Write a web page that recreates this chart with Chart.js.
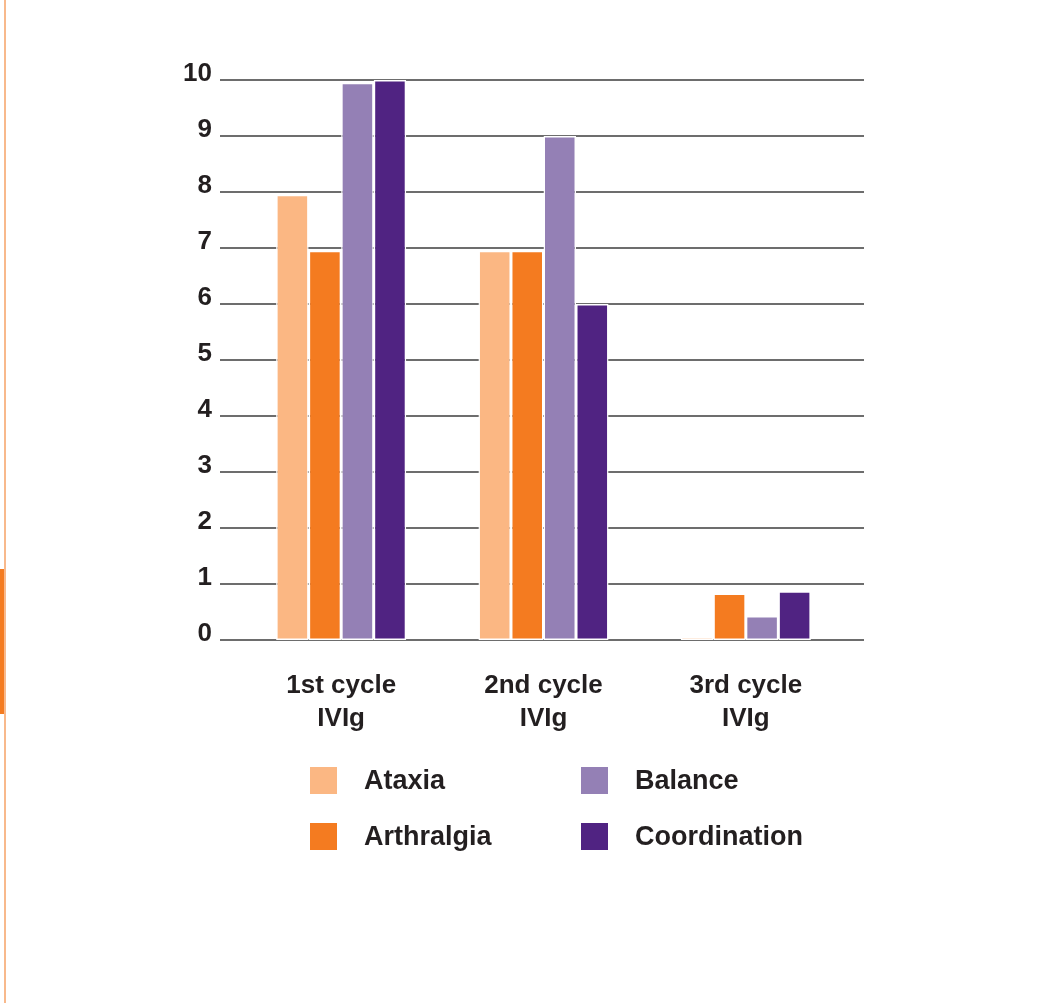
<!DOCTYPE html>
<html>
<head>
<meta charset="utf-8">
<script src="https://cdn.jsdelivr.net/npm/chart.js@4.4.0/dist/chart.umd.min.js"></script>
<style>
  html, body { margin: 0; padding: 0; background: #fff; }
  #wrap { position: relative; width: 1042px; height: 1003px; }
  #edge { position: absolute; left: 4px; top: 0; width: 1.5px; height: 1003px; background: #f8b98c; }
  #tab { position: absolute; left: 0; top: 569px; width: 3.5px; height: 145px; background: #f47b20; }
</style>
</head>
<body>
<div id="wrap">
  <canvas id="chart" width="1042" height="1003"></canvas>
  <div id="edge"></div>
  <div id="tab"></div>
</div>
<script>
// categories and series
var categories = [["1st cycle", "IVIg"], ["2nd cycle", "IVIg"], ["3rd cycle", "IVIg"]];
var ataxia = [7.95, 6.95, 0.06];
var arthralgia = [6.95, 6.95, 0.83];
var balance = [9.95, 9.0, 0.43];
var coordination = [10, 6, 0.87];
var yTicks = [0, 1, 2, 3, 4, 5, 6, 7, 8, 9, 10];

var seriesNames = ["Ataxia", "Arthralgia", "Balance", "Coordination"];
var seriesColors = ["#fbb783", "#f47b20", "#9480b5", "#502382"];
var fontFamily = "'Liberation Sans', Arial, Helvetica, sans-serif";
var textColor = "#231f20";

// horizontal rules that run past the plot area on both sides
const gridPlugin = {
  id: 'wideGrid',
  beforeDatasetsDraw(chart) {
    const ctx = chart.ctx;
    const y = chart.scales.y;
    const area = chart.chartArea;
    ctx.save();
    ctx.strokeStyle = '#6d6d6d';
    ctx.lineWidth = 2;
    yTicks.forEach(v => {
      const py = y.getPixelForValue(v);
      ctx.beginPath();
      ctx.moveTo(area.left - 20, py);
      ctx.lineTo(area.right + 17, py);
      ctx.stroke();
    });
    ctx.restore();
  }
};

// two column legend under the chart
const legendPlugin = {
  id: 'twoColLegend',
  afterDraw(chart) {
    const ctx = chart.ctx;
    const cols = [310, 581];
    const rows = [767, 823];
    ctx.save();
    ctx.font = 'bold 27px ' + fontFamily;
    ctx.textBaseline = 'middle';
    chart.data.datasets.forEach((ds, i) => {
      const cx = cols[Math.floor(i / 2)];
      const cy = rows[i % 2];
      ctx.fillStyle = ds.backgroundColor;
      ctx.fillRect(cx, cy, 27, 27);
      ctx.fillStyle = textColor;
      ctx.fillText(ds.label, cx + 54, cy + 15);
    });
    ctx.restore();
  }
};

const datasets = [ataxia, arthralgia, balance, coordination].map((vals, i) => ({
  label: seriesNames[i],
  data: vals,
  backgroundColor: seriesColors[i],
  borderColor: '#ffffff',
  borderWidth: 1.5,
  borderSkipped: false,
  barPercentage: 1,
  categoryPercentage: 0.643
}));

new Chart(document.getElementById('chart').getContext('2d'), {
  type: 'bar',
  data: { labels: categories, datasets: datasets },
  plugins: [gridPlugin, legendPlugin],
  options: {
    responsive: false,
    animation: false,
    layout: { padding: { top: 80, left: 180, right: 195, bottom: 263 } },
    plugins: {
      legend: { display: false },
      tooltip: { enabled: false }
    },
    scales: {
      x: {
        grid: { display: false, drawTicks: false },
        border: { display: false },
        ticks: {
          color: textColor,
          padding: 29,
          maxRotation: 0,
          font: { family: fontFamily, size: 26, weight: 'bold', lineHeight: 1.27 }
        },
        afterFit(scale) { scale.height = 100; }
      },
      y: {
        min: 0,
        max: 10,
        grid: { display: false, drawTicks: false },
        border: { display: false },
        afterBuildTicks(scale) { scale.ticks = yTicks.map(v => ({ value: v })); },
        ticks: {
          color: textColor,
          padding: 28,
          labelOffset: -6,
          font: { family: fontFamily, size: 26, weight: 'bold' }
        },
        afterFit(scale) { scale.width = 60; }
      }
    }
  }
});
</script>
</body>
</html>
